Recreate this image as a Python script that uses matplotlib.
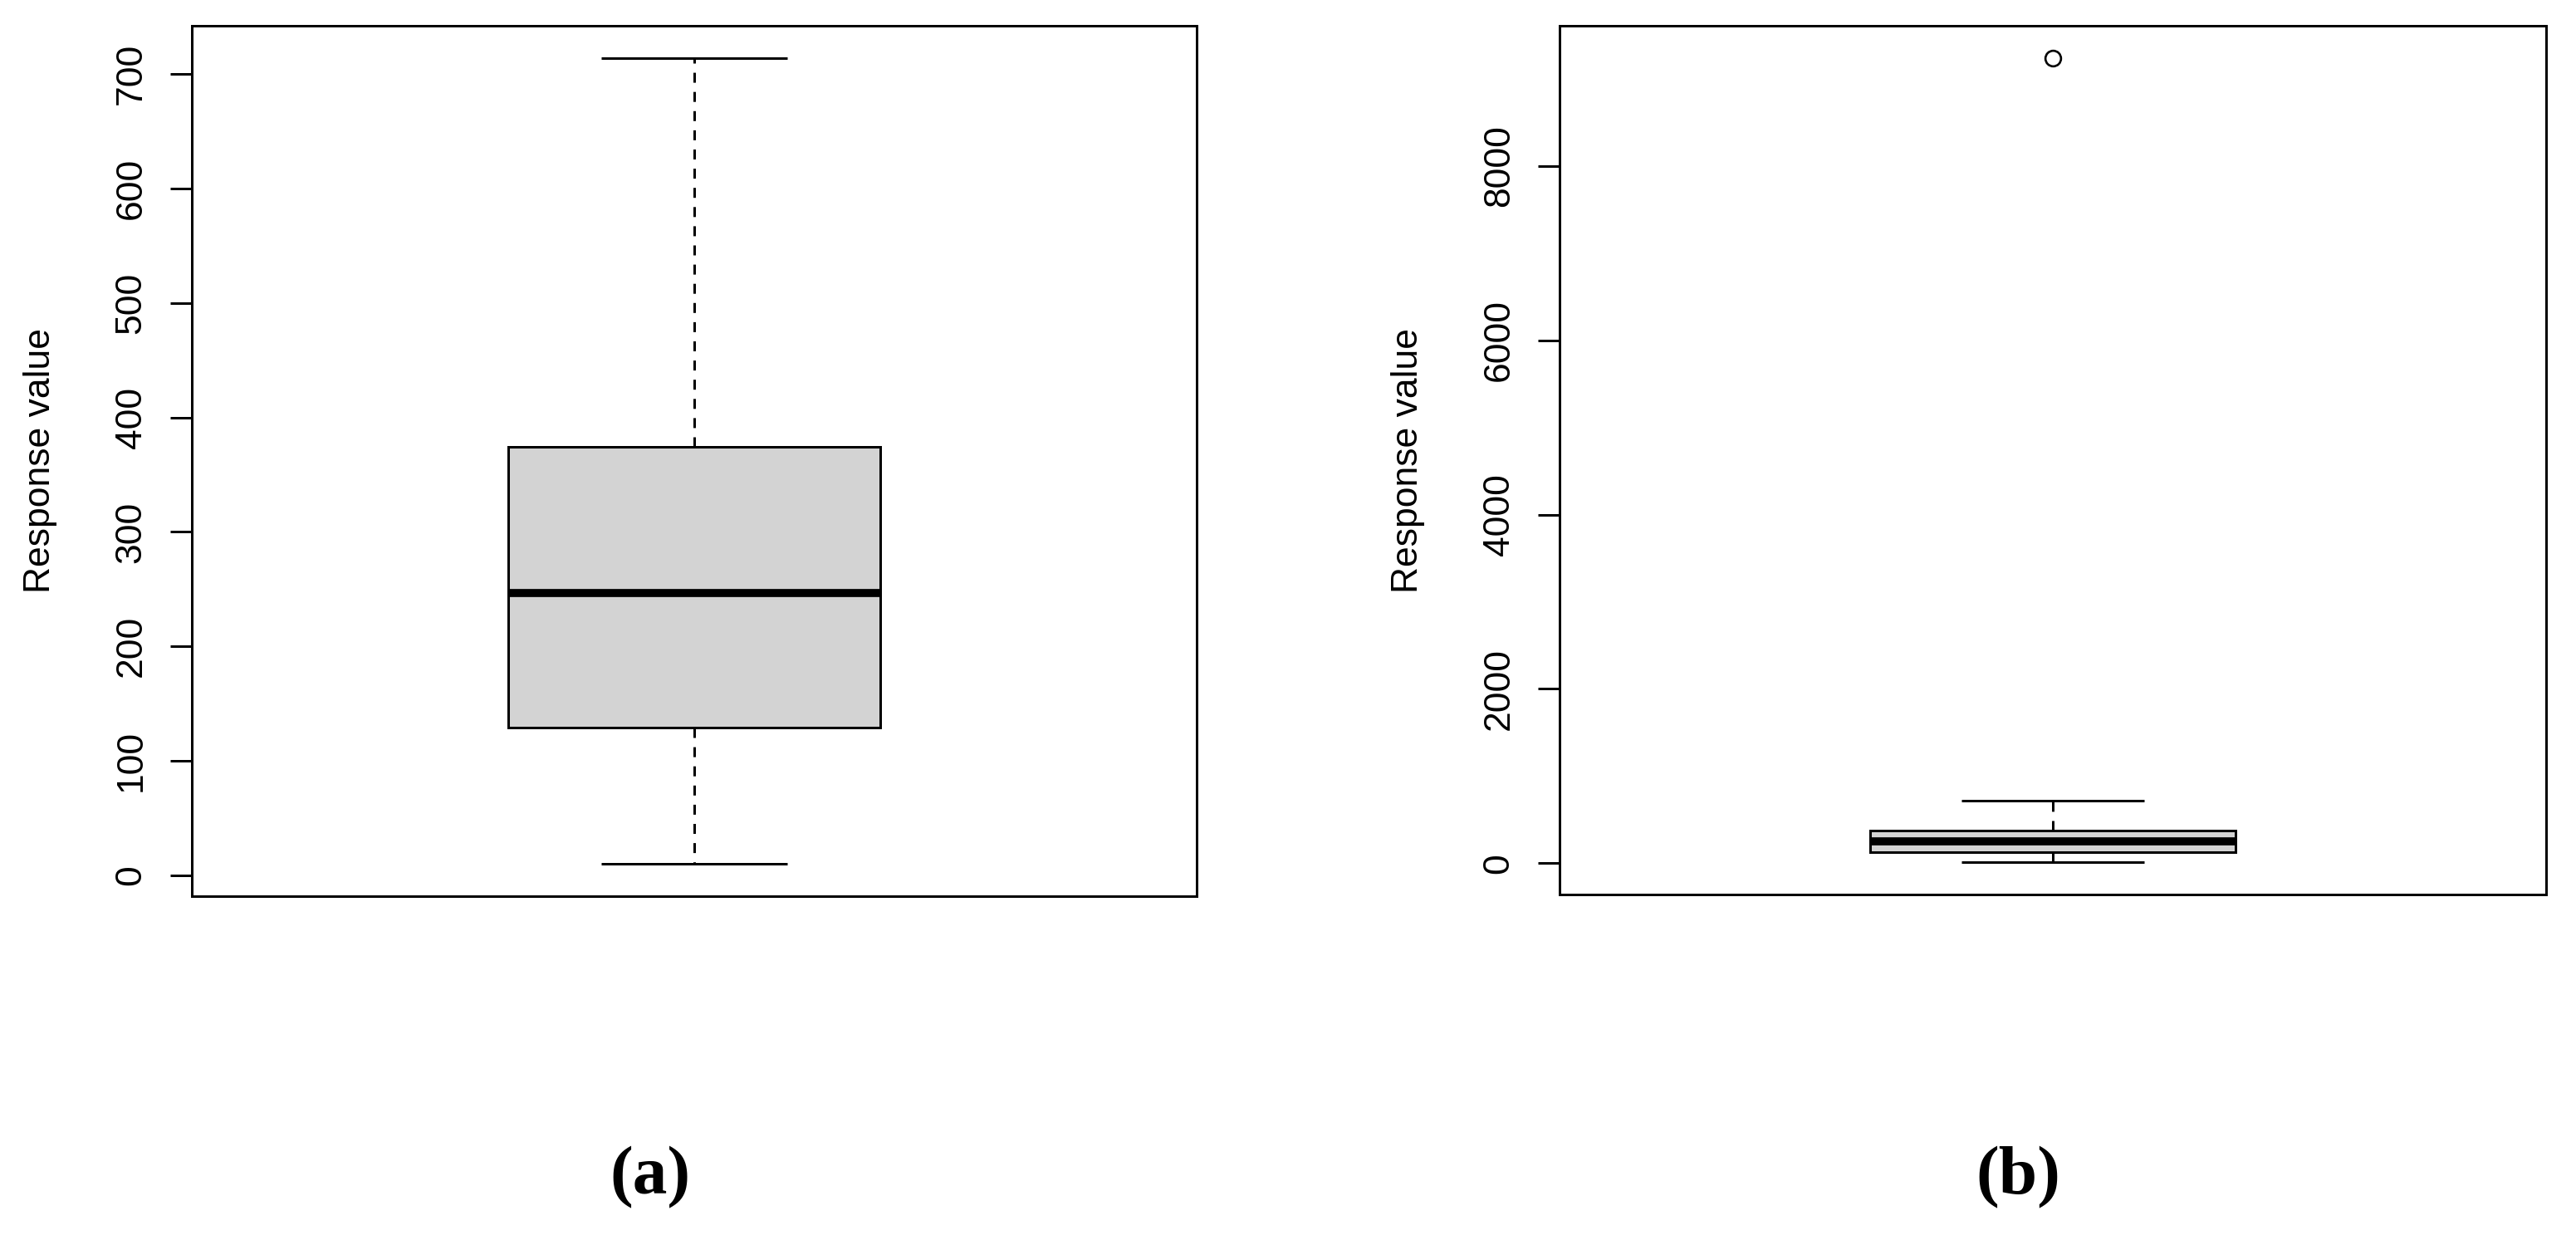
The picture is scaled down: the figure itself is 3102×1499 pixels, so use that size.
import matplotlib
matplotlib.use("Agg")
import matplotlib.pyplot as plt

# summary statistics
panel_a_stats = [10, 129, 247, 374, 714]   # whislo, q1, med, q3, whishi
panel_a_fliers = []
panel_b_stats = [10, 129, 247, 374, 714]
panel_b_fliers = [9240]

panel_a_ticks = [0, 100, 200, 300, 400, 500, 600, 700]
panel_b_ticks = [0, 2000, 4000, 6000, 8000]
ylabel = "Response value"
panel_names = ["(a)", "(b)"]

plt.rcParams['font.family'] = ['Liberation Sans', 'DejaVu Sans']

W, H = 3102, 1499
DPI = 100
LW = 2.16  # about 3 px


def make_stats(vals, fliers):
    lo, q1, med, q3, hi = vals
    return [dict(whislo=lo, q1=q1, med=med, q3=q3, whishi=hi, fliers=fliers)]


def draw_panel(ax, vals, fliers, ticks, label_x):
    ax.bxp(make_stats(vals, fliers), positions=[1], widths=0.4, capwidths=0.2,
           patch_artist=True, showfliers=True,
           boxprops=dict(facecolor='#d3d3d3', edgecolor='black', linewidth=LW),
           whiskerprops=dict(color='black', linewidth=LW, linestyle=(0, (4, 3.7))),
           capprops=dict(color='black', linewidth=LW, solid_capstyle='butt'),
           medianprops=dict(color='black', linewidth=7, solid_capstyle='butt'),
           flierprops=dict(marker='o', markerfacecolor='none', markeredgecolor='black',
                           markersize=13.5, markeredgewidth=1.9))

    # R style 4% padding around the data range
    allv = list(vals) + list(fliers)
    lo, hi = min(allv), max(allv)
    rng = hi - lo
    ax.set_ylim(lo - 0.04 * rng, hi + 0.04 * rng)
    ax.set_xlim(0.46, 1.54)

    ax.set_xticks([])
    ax.set_yticks(ticks)
    ax.set_yticklabels([str(t) for t in ticks], rotation=90, va='center')
    ax.tick_params(axis='y', direction='out', length=18.7, width=LW, pad=19, labelsize=32)
    for s in ax.spines.values():
        s.set_linewidth(LW)
        s.set_color('black')

    ax.set_ylabel(ylabel, fontsize=32)
    ax.yaxis.set_label_coords(label_x, 0.5)


fig = plt.figure(figsize=(W / DPI, H / DPI), dpi=DPI)

ax1 = fig.add_axes([231 / W, 1 - 1079 / H, 1210 / W, 1048 / H])
ax2 = fig.add_axes([1878 / W, 1 - 1077 / H, 1188 / W, 1046 / H])

draw_panel(ax1, panel_a_stats, panel_a_fliers, panel_a_ticks, -0.134)
draw_panel(ax2, panel_b_stats, panel_b_fliers, panel_b_ticks, -0.136)

fig.text(783 / W, 1 - 1418 / H, panel_names[0], ha='center', va='center',
         fontsize=60, fontweight='bold', family=['Liberation Serif', 'DejaVu Serif'])
fig.text(2430 / W, 1 - 1418 / H, panel_names[1], ha='center', va='center',
         fontsize=60, fontweight='bold', family=['Liberation Serif', 'DejaVu Serif'])

fig.savefig("out.png", dpi=DPI, facecolor='white')
